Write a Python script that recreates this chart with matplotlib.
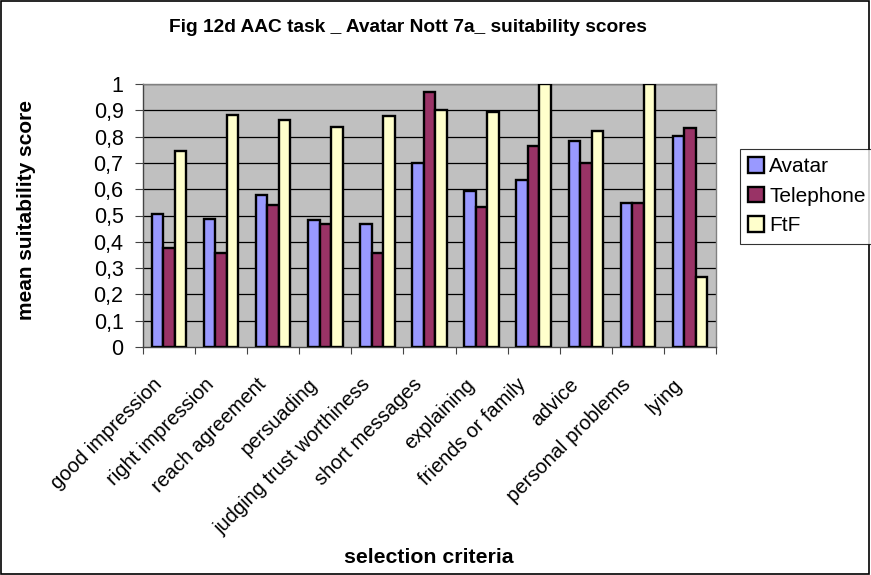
import matplotlib
matplotlib.use("Agg")
import matplotlib.pyplot as plt
import numpy as np
from matplotlib.patches import Rectangle
from matplotlib.transforms import offset_copy

plt.rcParams['font.family'] = ['Liberation Sans', 'DejaVu Sans']

categories = ["good impression", "right impression", "reach agreement", "persuading",
              "judging trust worthiness", "short messages", "explaining",
              "friends or family", "advice", "personal problems", "lying"]
avatar = [0.506, 0.486, 0.579, 0.481, 0.468, 0.699, 0.594, 0.635, 0.782, 0.548, 0.801]
telephone = [0.377, 0.357, 0.539, 0.468, 0.357, 0.968, 0.532, 0.766, 0.699, 0.548, 0.834]
ftf = [0.745, 0.883, 0.865, 0.836, 0.877, 0.902, 0.895, 1.0, 0.821, 1.0, 0.265]
series_names = ["Avatar", "Telephone", "FtF"]
colors = ["#9999FF", "#993366", "#FFFFCC"]
yticks = [0, 0.1, 0.2, 0.3, 0.4, 0.5, 0.6, 0.7, 0.8, 0.9, 1.0]

W, H = 871, 575
fig = plt.figure(figsize=(W / 100, H / 100), dpi=100)
ax = fig.add_axes([143 / W, 1 - 347 / H, (716 - 143) / W, (347 - 84) / H])
ax.set_facecolor("#C0C0C0")

x = np.arange(len(categories))
w = 0.22
for i, (vals, name, c) in enumerate(zip([avatar, telephone, ftf], series_names, colors)):
    ax.bar(x + (i - 1) * w, vals, width=w, color=c, edgecolor="black",
           linewidth=1.7, label=name, zorder=3)

ax.set_xlim(-0.5, len(categories) - 0.5)
ax.set_ylim(0, 1)
ax.set_yticks(yticks)
ax.set_yticklabels([("%g" % t).replace(".", ",") for t in yticks], fontsize=15.5)
for t in yticks[1:]:
    ax.axhline(t, color="black", linewidth=0.9, zorder=1)

# category boundaries carry the tick marks; names sit under the group centres
ax.set_xticks(np.arange(len(categories) + 1) - 0.5)
ax.set_xticklabels([])
ax.tick_params(axis="x", direction="out", length=5, width=0.8, color="#444444")
ax.tick_params(axis="y", direction="out", length=6, width=0.8, color="#444444", pad=8)
lab_tr = offset_copy(ax.get_xaxis_transform(), fig=fig, x=-17, y=-28, units="dots")
for xi, lab in zip(x, categories):
    ax.text(xi, 0, lab, rotation=45, ha="right", va="top",
            rotation_mode="anchor", fontsize=14.5, transform=lab_tr)

for side in ["top", "right"]:
    ax.spines[side].set_color("#808080")
    ax.spines[side].set_linewidth(1.0)
for side in ["left", "bottom"]:
    ax.spines[side].set_color("#444444")
    ax.spines[side].set_linewidth(1.0)

fig.text(27 / W, 1 - 210 / H, "mean suitability score", rotation=90, ha="center",
         va="center", fontsize=15, fontweight="bold")
fig.text(429 / W, 1 - 563 / H, "selection criteria", ha="center", va="baseline",
         fontsize=15.3, fontweight="bold")
fig.text(408 / W, 1 - 27 / H, "Fig 12d AAC task _ Avatar Nott 7a_ suitability scores",
         ha="center", va="center", fontsize=13.8, fontweight="bold")

leg = fig.legend(loc="upper left", bbox_to_anchor=(740 / W, 1 - 149 / H),
                 fontsize=15, frameon=True, fancybox=False, edgecolor="black",
                 handlelength=0.75, handleheight=0.75, handletextpad=0.25,
                 borderpad=0.4, labelspacing=0.5, borderaxespad=0)
leg.get_frame().set_linewidth(0.8)

fig.patches.append(Rectangle((0.001, 0.001), 0.997, 0.997, transform=fig.transFigure,
                             fill=False, edgecolor="black", linewidth=1.2))

fig.savefig("out.png", dpi=100, facecolor="white")
